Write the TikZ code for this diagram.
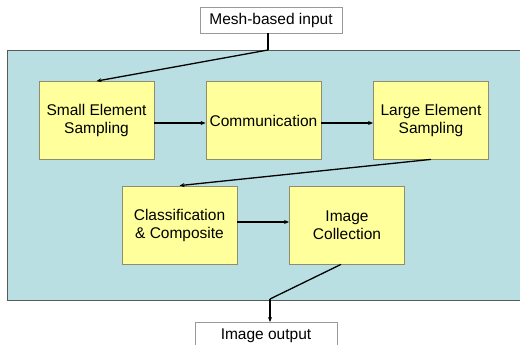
\documentclass[tikz,border=0pt]{standalone}
\usepackage{fontspec}
\setmainfont{Liberation Sans}
\usetikzlibrary{arrows.meta}
\definecolor{bgcyan}{HTML}{B9DFE2}
\definecolor{boxyel}{HTML}{FFFF9C}
\definecolor{boxedge}{HTML}{8E8E6A}
\begin{document}
\begin{tikzpicture}[x=1pt,y=-1pt,
  stepbox/.style={draw=boxedge,line width=0.8pt,fill=boxyel,minimum width=115pt,minimum height=78pt,align=center,font=\fontsize{15.5}{18}\selectfont,inner sep=0pt},
  iobox/.style={draw=gray!80,line width=0.8pt,fill=white,minimum width=142pt,minimum height=26pt,font=\fontsize{15.5}{18}\selectfont,inner sep=0pt},
  conn/.style={line width=1.3pt,-{Stealth[length=5pt,width=4pt]}},
  plain/.style={line width=1.3pt}]
\useasboundingbox (0,0) rectangle (520,345);
\fill[white] (0,0) rectangle (520,345);
\draw[fill=bgcyan,draw=gray!70!black,line width=0.8pt] (7,50) -- (522,50) -- (522,300) -- (7,300) -- cycle;
\node[iobox] (in) at (271,20) {Mesh-based input};
\node[iobox,anchor=north] (out) at (266,322) {Image output};
\node[stepbox] (small) at (96.5,120.5) {Small Element\\Sampling};
\node[stepbox] (comm) at (263.5,120.5) {Communication};
\node[stepbox] (large) at (431,120) {Large Element\\Sampling};
\node[stepbox] (class) at (179.5,225) {Classification\\\& Composite};
\node[stepbox] (coll) at (347,225) {Image\\Collection};
\coordinate (j1) at (268,50);
\coordinate (j2) at (270,299);
\draw[plain] (in.south -| j1) -- (j1);
\draw[conn] (j1) -- (small.north);
\draw[conn] (small.east |- 0,123) -- (comm.west |- 0,123);
\draw[conn] (comm.east |- 0,123) -- (large.west |- 0,123);
\draw[conn] (large.south) -- (class.north);
\draw[conn] (class.east |- 0,222) -- (coll.west |- 0,222);
\draw[plain] (coll.south -| 341,0) -- (j2);
\draw[conn] (j2) -- (out.north -| j2);
\end{tikzpicture}
\end{document}
